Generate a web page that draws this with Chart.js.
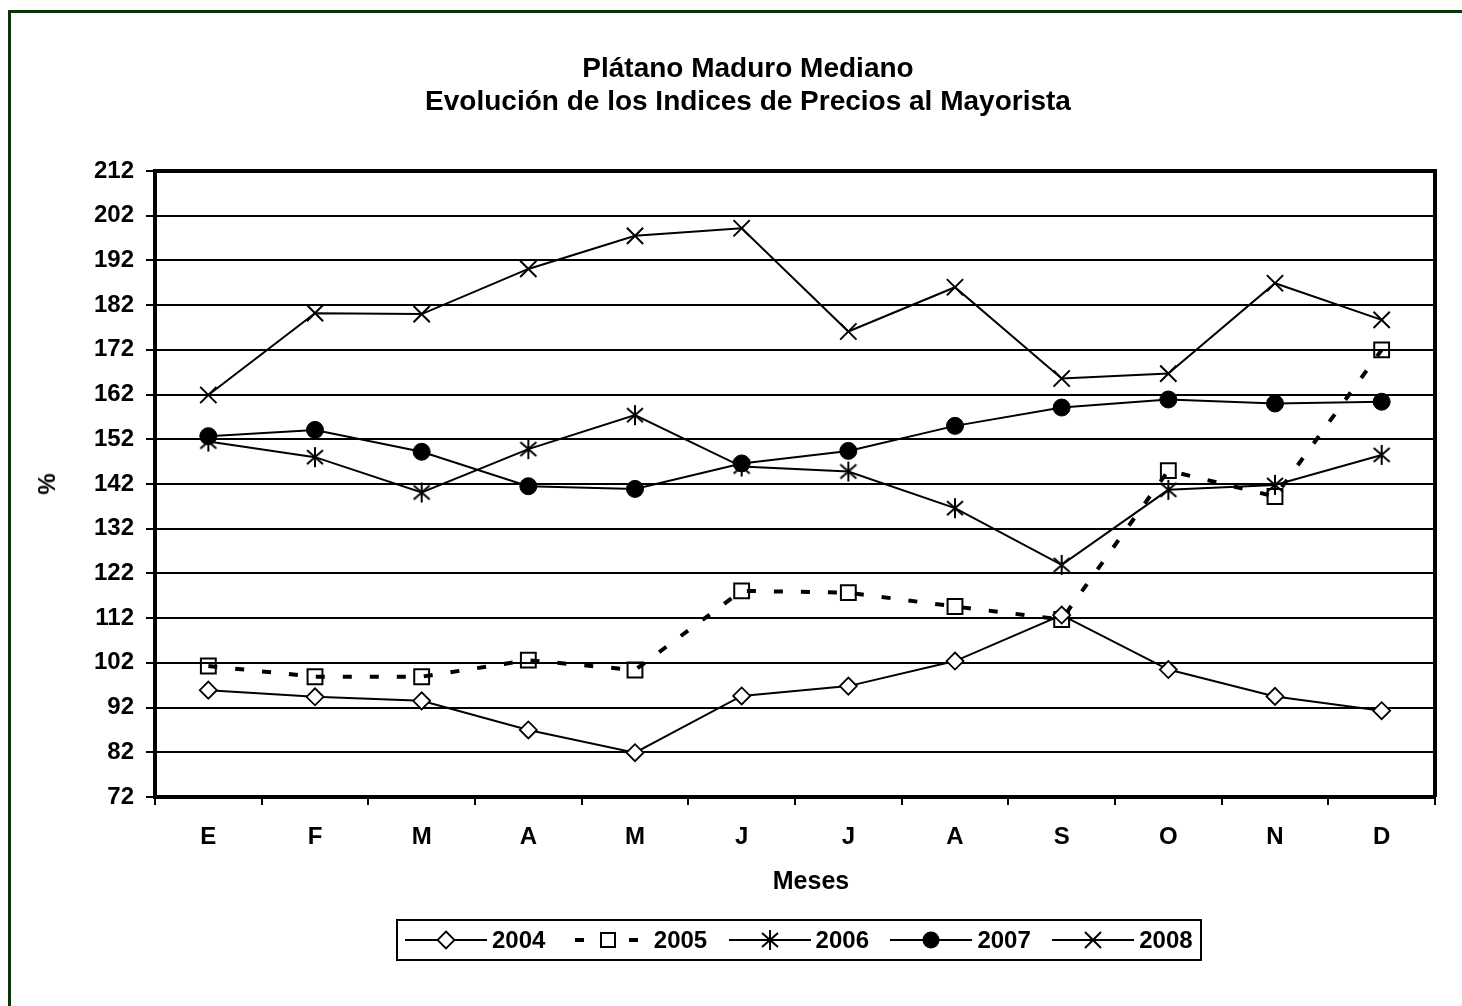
<!DOCTYPE html>
<html>
<head>
<meta charset="utf-8">
<script src="https://cdn.jsdelivr.net/npm/chart.js@4.4.1/dist/chart.umd.min.js"></script>
<style>
    html, body { margin: 0; padding: 0; background: #fff; overflow: hidden; }
    body { width: 1462px; height: 1006px; position: relative; font-family: "Liberation Sans", Arial, sans-serif; font-weight: bold; color: #000; }
    #frame { position: absolute; left: 8px; top: 10px; width: 1500px; height: 1100px; border-top: 3px solid #063806; border-left: 3px solid #063806; }
    #chart { position: absolute; left: 0; top: 0; }
    .title { position: absolute; left: 348px; width: 800px; text-align: center; font-size: 28px; line-height: 32px; }
    #xTitle { position: absolute; left: 711px; width: 200px; top: 866px; text-align: center; font-size: 25px; line-height: 28px; }
    #yTitle { position: absolute; left: 47px; top: 484px; font-size: 24px; transform: translate(-50%, -50%) rotate(-90deg); }
    #legend { position: absolute; left: 396px; top: 919px; width: 806px; height: 42px; border: 2px solid #000; box-sizing: border-box; }
    .item { position: absolute; top: 0; height: 38px; }
    .item svg { position: absolute; left: 0; top: 9px; }
    .item span { position: absolute; left: 87px; top: 6px; font-size: 24px; line-height: 26px; }
</style>
</head>
<body>
<div id="frame"></div>
<canvas id="chart" width="1462" height="1006"></canvas>
<div class="title" style="top:52px">Plátano Maduro Mediano</div>
<div class="title" style="top:85px">Evolución de los Indices de Precios al Mayorista</div>
<div id="yTitle">%</div>
<div id="xTitle">Meses</div>
<div id="legend"></div>

<script>
// Data
const months = ['E', 'F', 'M', 'A', 'M', 'J', 'J', 'A', 'S', 'O', 'N', 'D'];
const yTickValues = [72, 82, 92, 102, 112, 122, 132, 142, 152, 162, 172, 182, 192, 202, 212];
const years = ['2004', '2005', '2006', '2007', '2008'];

const idx2004 = [95.9, 94.4, 93.5, 87.0, 81.9, 94.6, 96.8, 102.4, 112.7, 100.5, 94.5, 91.3];
const idx2005 = [101.3, 98.9, 98.9, 102.6, 100.4, 118.1, 117.7, 114.6, 111.7, 145.0, 139.2, 172.0];
const idx2006 = [151.5, 148.0, 140.1, 149.8, 157.4, 145.9, 144.8, 136.6, 123.9, 140.7, 141.8, 148.5];
const idx2007 = [152.7, 154.1, 149.2, 141.5, 140.9, 146.6, 149.4, 155.0, 159.1, 160.9, 160.0, 160.4];
const idx2008 = [161.9, 180.2, 180.0, 190.1, 197.5, 199.2, 176.1, 186.0, 165.6, 166.7, 186.9, 178.7];

// asterisk marker (vertical bar + X) for 2006
function makeAsterisk() {
    const c = document.createElement('canvas');
    c.width = 22; c.height = 22;
    const g = c.getContext('2d');
    g.strokeStyle = '#000';
    g.lineWidth = 2;
    g.beginPath();
    g.moveTo(11, 1); g.lineTo(11, 21);
    g.moveTo(3, 4); g.lineTo(19, 18);
    g.moveTo(19, 4); g.lineTo(3, 18);
    g.stroke();
    return c;
}
const asterisk = makeAsterisk();

// outline on top and right of the plot area
const plotFrame = {
    id: 'plotFrame',
    beforeDatasetsDraw(chart) {
        const a = chart.chartArea;
        const ctx = chart.ctx;
        ctx.save();
        ctx.strokeStyle = '#000';
        ctx.lineWidth = 4;
        ctx.beginPath();
        ctx.moveTo(a.left, a.top);
        ctx.lineTo(a.right, a.top);
        ctx.lineTo(a.right, a.bottom);
        ctx.stroke();
        ctx.restore();
    }
};

Chart.defaults.color = '#000';
Chart.defaults.font.family = '"Liberation Sans", Arial, sans-serif';
Chart.defaults.font.weight = 'bold';

const chart = new Chart(document.getElementById('chart'), {
    type: 'line',
    data: {
        labels: months,
        datasets: [
            {
                label: '2004', data: idx2004, borderColor: '#000', borderWidth: 2,
                pointStyle: 'rectRot', pointRadius: 8.5, pointBorderWidth: 1.8,
                pointBackgroundColor: '#fff', pointBorderColor: '#000', tension: 0
            },
            {
                label: '2005', data: idx2005, borderColor: '#000', borderWidth: 4,
                borderDash: [9, 18], borderCapStyle: 'butt',
                pointStyle: 'rect', pointRadius: 10.5, pointBorderWidth: 2,
                pointBackgroundColor: 'rgba(0,0,0,0)', pointBorderColor: '#000', tension: 0
            },
            {
                label: '2006', data: idx2006, borderColor: '#000', borderWidth: 2,
                pointStyle: asterisk, pointRadius: 10,
                pointBorderColor: '#000', tension: 0
            },
            {
                label: '2007', data: idx2007, borderColor: '#000', borderWidth: 2,
                pointStyle: 'circle', pointRadius: 8.5, pointBorderWidth: 1,
                pointBackgroundColor: '#000', pointBorderColor: '#000', tension: 0
            },
            {
                label: '2008', data: idx2008, borderColor: '#000', borderWidth: 2,
                pointStyle: 'crossRot', pointRadius: 11.5, pointBorderWidth: 2,
                pointBorderColor: '#000', tension: 0
            }
        ]
    },
    options: {
        responsive: false,
        animation: false,
        devicePixelRatio: 1,
        layout: { padding: { left: 0, top: 171, right: 27, bottom: 0 } },
        plugins: {
            legend: { display: false },
            title: { display: false },
            tooltip: { enabled: false }
        },
        scales: {
            x: {
                offset: true,
                afterFit(s) { s.height = 209; },
                grid: { offset: true, drawOnChartArea: false, drawTicks: true, tickLength: 8, color: '#000', lineWidth: 2 },
                border: { display: true, color: '#000', width: 4 },
                ticks: { padding: 18, maxRotation: 0, autoSkip: false, font: { size: 24, weight: 'bold' } }
            },
            y: {
                min: yTickValues[0],
                max: yTickValues[yTickValues.length - 1],
                afterFit(s) { s.width = 155; },
                afterBuildTicks(s) { s.ticks = yTickValues.map(v => ({ value: v })); },
                grid: { color: '#000', lineWidth: 2, drawTicks: true, tickLength: 9 },
                border: { display: true, color: '#000', width: 4 },
                ticks: { padding: 12, font: { size: 24, weight: 'bold' } }
            }
        }
    },
    plugins: [plotFrame]
});

// Legend: line sample with marker, then year
const legendBox = document.getElementById('legend');
const markerSvg = {
    '2004': '<path d="M41 1.5 L49.5 10 L41 18.5 L32.5 10 Z" fill="#fff" stroke="#000" stroke-width="1.8"/>',
    '2005': '<rect x="34" y="3" width="14" height="14" fill="#fff" stroke="#000" stroke-width="2"/>',
    '2006': '<path d="M41 0 L41 20 M33 3 L49 17 M49 3 L33 17" stroke="#000" stroke-width="2"/>',
    '2007': '<circle cx="41" cy="10" r="8.5" fill="#000"/>',
    '2008': '<path d="M33 2 L49 18 M49 2 L33 18" stroke="#000" stroke-width="2"/>'
};
years.forEach((year, i) => {
    const item = document.createElement('div');
    item.className = 'item';
    item.style.left = (405 - 398 + i * 161.8) + 'px';
    const line = year === '2005'
        ? '<line x1="0" y1="10" x2="82" y2="10" stroke="#000" stroke-width="4" stroke-dasharray="9 18" stroke-dashoffset="-8"/>'
        : '<line x1="0" y1="10" x2="82" y2="10" stroke="#000" stroke-width="2"/>';
    item.innerHTML = '<svg width="82" height="20">' + line + markerSvg[year] + '</svg><span>' + year + '</span>';
    legendBox.appendChild(item);
});
</script>
</body>
</html>
